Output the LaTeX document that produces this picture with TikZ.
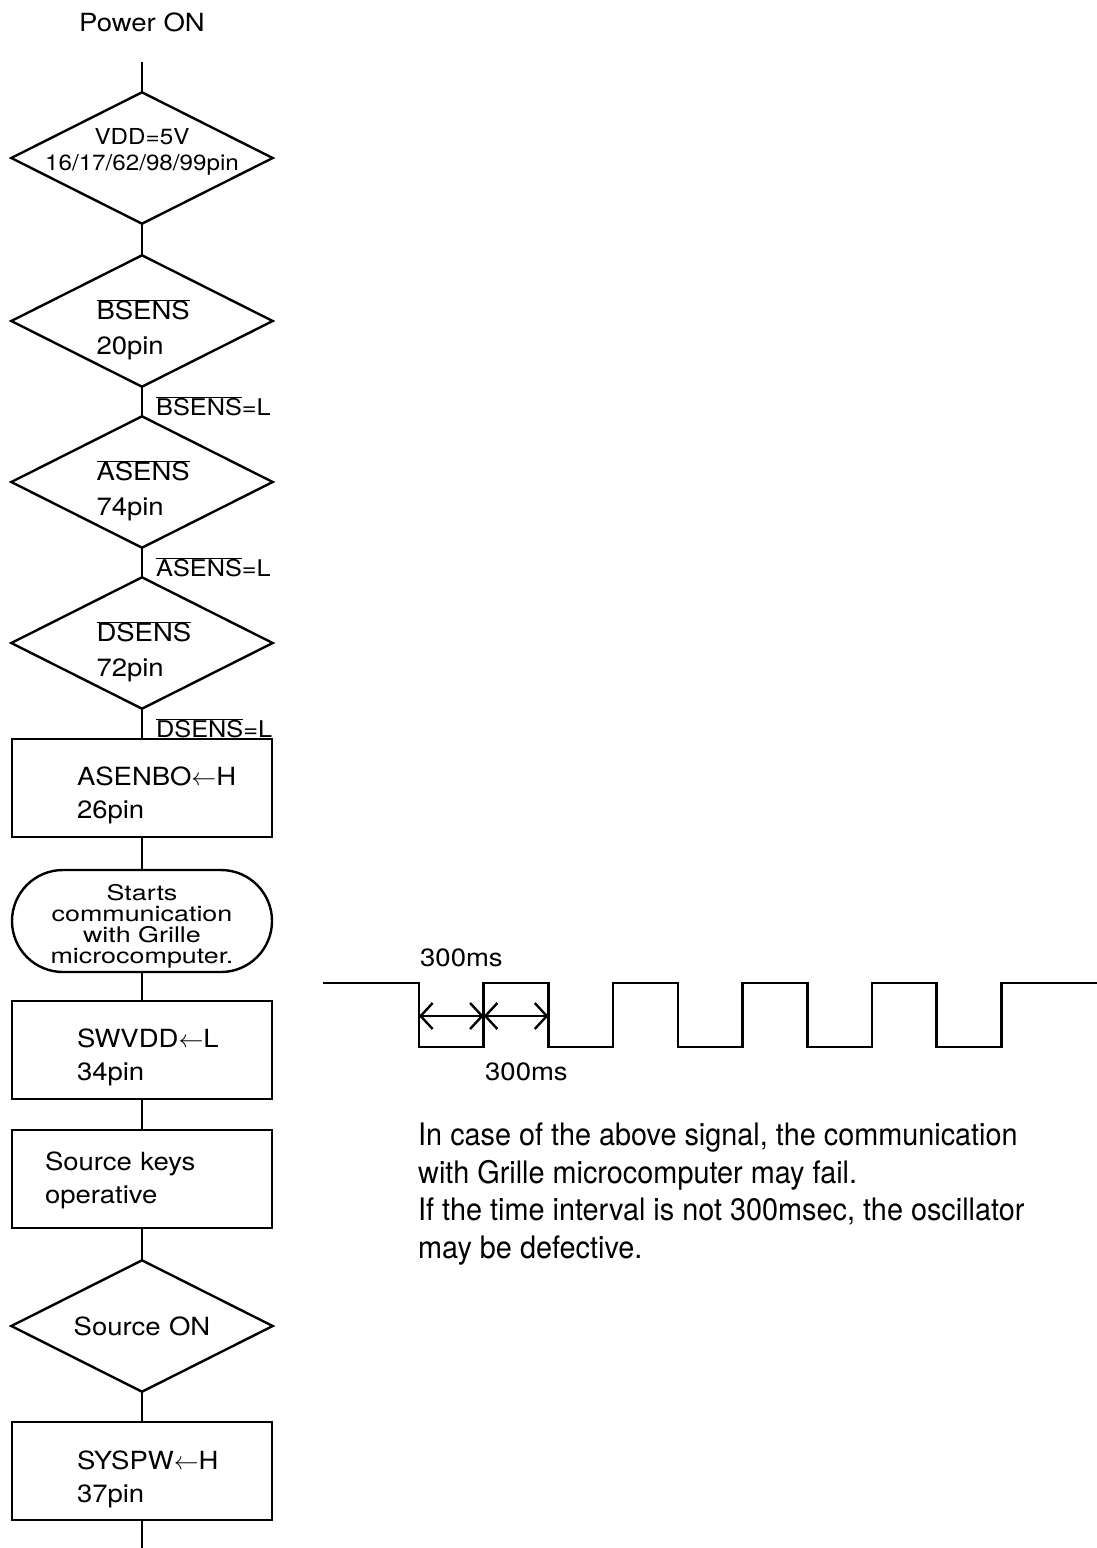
\documentclass[tikz,border=0pt]{standalone}
\usepackage{fontspec}
\setmainfont{TeX Gyre Heros}[FakeStretch=1.1]
\newfontfamily\widefont{TeX Gyre Heros}[FakeStretch=1.25]
\newfontfamily\narrowfont{TeX Gyre Heros}[FakeStretch=0.93]
\usetikzlibrary{arrows.meta}
\newcommand{\ovl}[1]{$\overline{\mbox{#1}}$}

\begin{document}
\begin{tikzpicture}[x=1pt, y=-1pt, line width=2.4pt,
    every node/.style={inner sep=0pt},
    proc/.style={draw, minimum height=98pt, align=left, text width=130pt, inner xsep=65pt,
                 text height=34pt, font=\fontsize{25}{33}\selectfont},
    decide/.style={minimum width=259pt, minimum height=129pt, align=left, text width=91pt,
                   inner xsep=84pt, text height=38pt, font=\fontsize{25}{35}\selectfont},
    term/.style={draw, rounded corners=51pt, minimum width=260pt, minimum height=102pt,
                 align=center, text height=89pt, font=\widefont\fontsize{21.5}{21}\selectfont},
    cond/.style={anchor=west, xshift=13pt, yshift=-5pt, font=\fontsize{23}{23}\selectfont},
    dim/.style={{Straight Barb[length=12pt,width=26pt]}-{Straight Barb[length=12pt,width=26pt]}}]
    \useasboundingbox (0,0) rectangle (1097,1548);

    % flow chart
    \node (power) at (142,22) {\fontsize{25}{30}\selectfont Power ON};
    \coordinate (top) at (142,62);
    \node [decide, text width=259pt, inner xsep=0pt, align=center, text height=, text depth=43pt,
           font=\fontsize{22}{26}\selectfont] (vdd) at (142,158) {VDD=5V\\16/17/62/98/99pin};
    \node [decide] (bsens) at (142,321) {\ovl{BSENS}\\20pin};
    \node [decide] (asens) at (142,482) {\ovl{ASENS}\\74pin};
    \node [decide] (dsens) at (142,643) {\ovl{DSENS}\\72pin};
    \node [proc] (asenbo) at (142,788) {ASENBO$\leftarrow$H\\26pin};
    \node [term] (talk) at (142,921) {Starts\\communication\\with Grille\\microcomputer.};
    \node [proc] (swvdd) at (142,1050) {SWVDD$\leftarrow$L\\34pin};
    \node [proc, text width=194pt, inner xsep=33pt, text height=22pt] (keys) at (142,1179) {Source keys\\operative};
    \node [decide, text width=259pt, inner xsep=0pt, align=center, text height=] (srcon) at (142,1326) {Source ON};
    \node [proc, text height=36pt] (syspw) at (142,1471) {SYSPW$\leftarrow$H\\37pin};
    \coordinate (bot) at (142,1548);

    \foreach \n in {vdd,bsens,asens,dsens,srcon}
        \draw (\n.north) -- (\n.east) -- (\n.south) -- (\n.west) -- cycle;

    \draw (top) -- (vdd);
    \draw (vdd) -- (bsens);
    \draw (bsens) -- node [cond] {\ovl{BSENS}=L} (asens);
    \draw (asens) -- node [cond] {\ovl{ASENS}=L} (dsens);
    \draw (dsens) -- node [cond] {\ovl{DSENS}=L} (asenbo);
    \draw (asenbo) -- (talk);
    \draw (talk) -- (swvdd);
    \draw (swvdd) -- (keys);
    \draw (keys) -- (srcon);
    \draw (srcon) -- (syspw);
    \draw (syspw) -- (bot);

    % signal
    \draw [line width=2.6pt] (323,983) \foreach \k in {0,...,4} {
        -| ({419+129.4*\k},1047) -| ({483.7+129.4*\k},983)} -- (1097,983);
    \coordinate (t0) at (419,1016);
    \coordinate (t1) at (483.7,1016);
    \coordinate (t2) at (548.4,1016);
    \draw [dim] (t0) -- (t1);
    \draw [dim] (t1) -- (t2);
    \node [anchor=west, font=\fontsize{25}{30}\selectfont] (upper) at (419,958) {300ms};
    \node [anchor=west, font=\fontsize{25}{30}\selectfont] (lower) at (484,1072) {300ms};

    \node [anchor=north west, align=left, font=\narrowfont\fontsize{31}{37.5}\selectfont] (note) at (417,1122)
        {In case of the above signal, the communication\\
         with Grille microcomputer may fail.\\
         If the time interval is not 300msec, the oscillator\\
         may be defective.};
\end{tikzpicture}
\end{document}
